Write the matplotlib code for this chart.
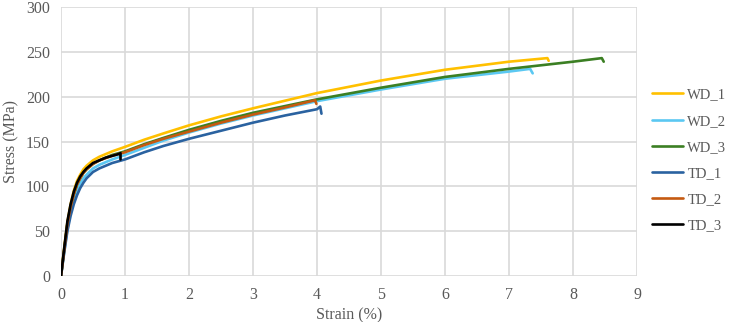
import matplotlib.pyplot as plt

labels = ["WD_1", "WD_2", "WD_3", "TD_1", "TD_2", "TD_3"]
colors = ["#FFC000", "#5BC8F2", "#3B7F23", "#2A62A0", "#C55A11", "#000000"]

strain_wd1 = [0, 0.05, 0.1, 0.15, 0.2, 0.25, 0.3, 0.35, 0.4, 0.5, 0.6, 0.8, 1.0, 1.3, 1.6, 2, 2.5, 3, 4, 5, 6, 7, 7.6, 7.62]
stress_wd1 = [0, 31, 60, 80, 95, 106, 113, 119, 123, 129, 133, 139, 144, 152, 159, 168, 178, 187, 204, 218, 230, 239, 243, 240]

strain_wd2 = [0, 0.05, 0.1, 0.15, 0.2, 0.25, 0.3, 0.35, 0.4, 0.5, 0.6, 0.8, 1.0, 1.3, 1.6, 2, 2.5, 3, 4, 5, 6, 7, 7.33, 7.37]
stress_wd2 = [0, 27, 53, 71, 85, 96, 103, 109, 113, 120, 124, 130, 135, 143, 151, 160, 170, 179, 195, 208, 220, 228, 231, 226]

strain_wd3 = [0, 0.05, 0.1, 0.15, 0.2, 0.25, 0.3, 0.35, 0.4, 0.5, 0.6, 0.8, 1.0, 1.3, 1.6, 2, 2.5, 3, 4, 5, 6, 7, 8, 8.45, 8.48]
stress_wd3 = [0, 29, 58, 77, 91, 102, 109, 115, 119, 125, 129, 135, 139, 147, 154, 163, 173, 182, 197, 210, 222, 231, 239, 243, 239]

strain_td1 = [0, 0.05, 0.1, 0.15, 0.2, 0.25, 0.3, 0.35, 0.4, 0.5, 0.6, 0.8, 1.0, 1.3, 1.6, 2, 2.5, 3, 3.5, 4, 4.05, 4.07]
stress_td1 = [0, 26, 50, 67, 80, 90, 98, 104, 109, 116, 120, 126, 130, 138, 145, 153, 162, 171, 179, 186, 189, 181]

strain_td2 = [0, 0.05, 0.1, 0.15, 0.2, 0.25, 0.3, 0.35, 0.4, 0.5, 0.6, 0.8, 1.0, 1.3, 1.6, 2, 2.5, 3, 3.5, 3.97, 3.99]
stress_td2 = [0, 29, 58, 77, 91, 102, 109, 115, 119, 125, 129, 134, 138, 146, 153, 161, 171, 180, 188, 196, 192]

strain_td3 = [0, 0.05, 0.1, 0.15, 0.2, 0.25, 0.3, 0.35, 0.4, 0.5, 0.6, 0.7, 0.8, 0.9, 0.93, 0.93]
stress_td3 = [0, 31, 61, 80, 94, 104, 111, 116, 120, 126, 129, 132, 134, 136, 137, 130]

series = [(strain_wd1, stress_wd1), (strain_wd2, stress_wd2), (strain_wd3, stress_wd3),
          (strain_td1, stress_td1), (strain_td2, stress_td2), (strain_td3, stress_td3)]

plt.rcParams['font.family'] = ['Liberation Serif', 'DejaVu Serif']
grey = "#595959"

fig = plt.figure(figsize=(7.29, 3.22), dpi=100)
ax = fig.add_axes([61 / 729, 1 - 276 / 322, 576 / 729, 269 / 322])

for (x, y), lab, c in zip(series, labels, colors):
    ax.plot(x, y, color=c, lw=1.9, label=lab, solid_joinstyle='round', solid_capstyle='round')

ax.set_xlim(0, 9)
ax.set_ylim(0, 300)
ax.set_xticks(range(0, 10))
ax.set_yticks(range(0, 301, 50))
ax.grid(True, color="#d9d9d9", lw=1.2)
ax.set_axisbelow(True)
for s in ax.spines.values():
    s.set_visible(False)
ax.tick_params(length=0, labelsize=11.5, labelcolor=grey, pad=8)
ax.set_xlabel("Strain (%)", fontsize=11.5, color=grey, labelpad=3)
ax.set_ylabel("Stress (MPa)", fontsize=11.5, color=grey, labelpad=5)

fig.legend(loc='upper left', bbox_to_anchor=(645 / 729, 1 - 81 / 322), frameon=False,
           fontsize=10.5, labelcolor=grey, handlelength=2.1, labelspacing=0.89,
           borderpad=0, handletextpad=0.3)

fig.savefig("out.png", dpi=100)
